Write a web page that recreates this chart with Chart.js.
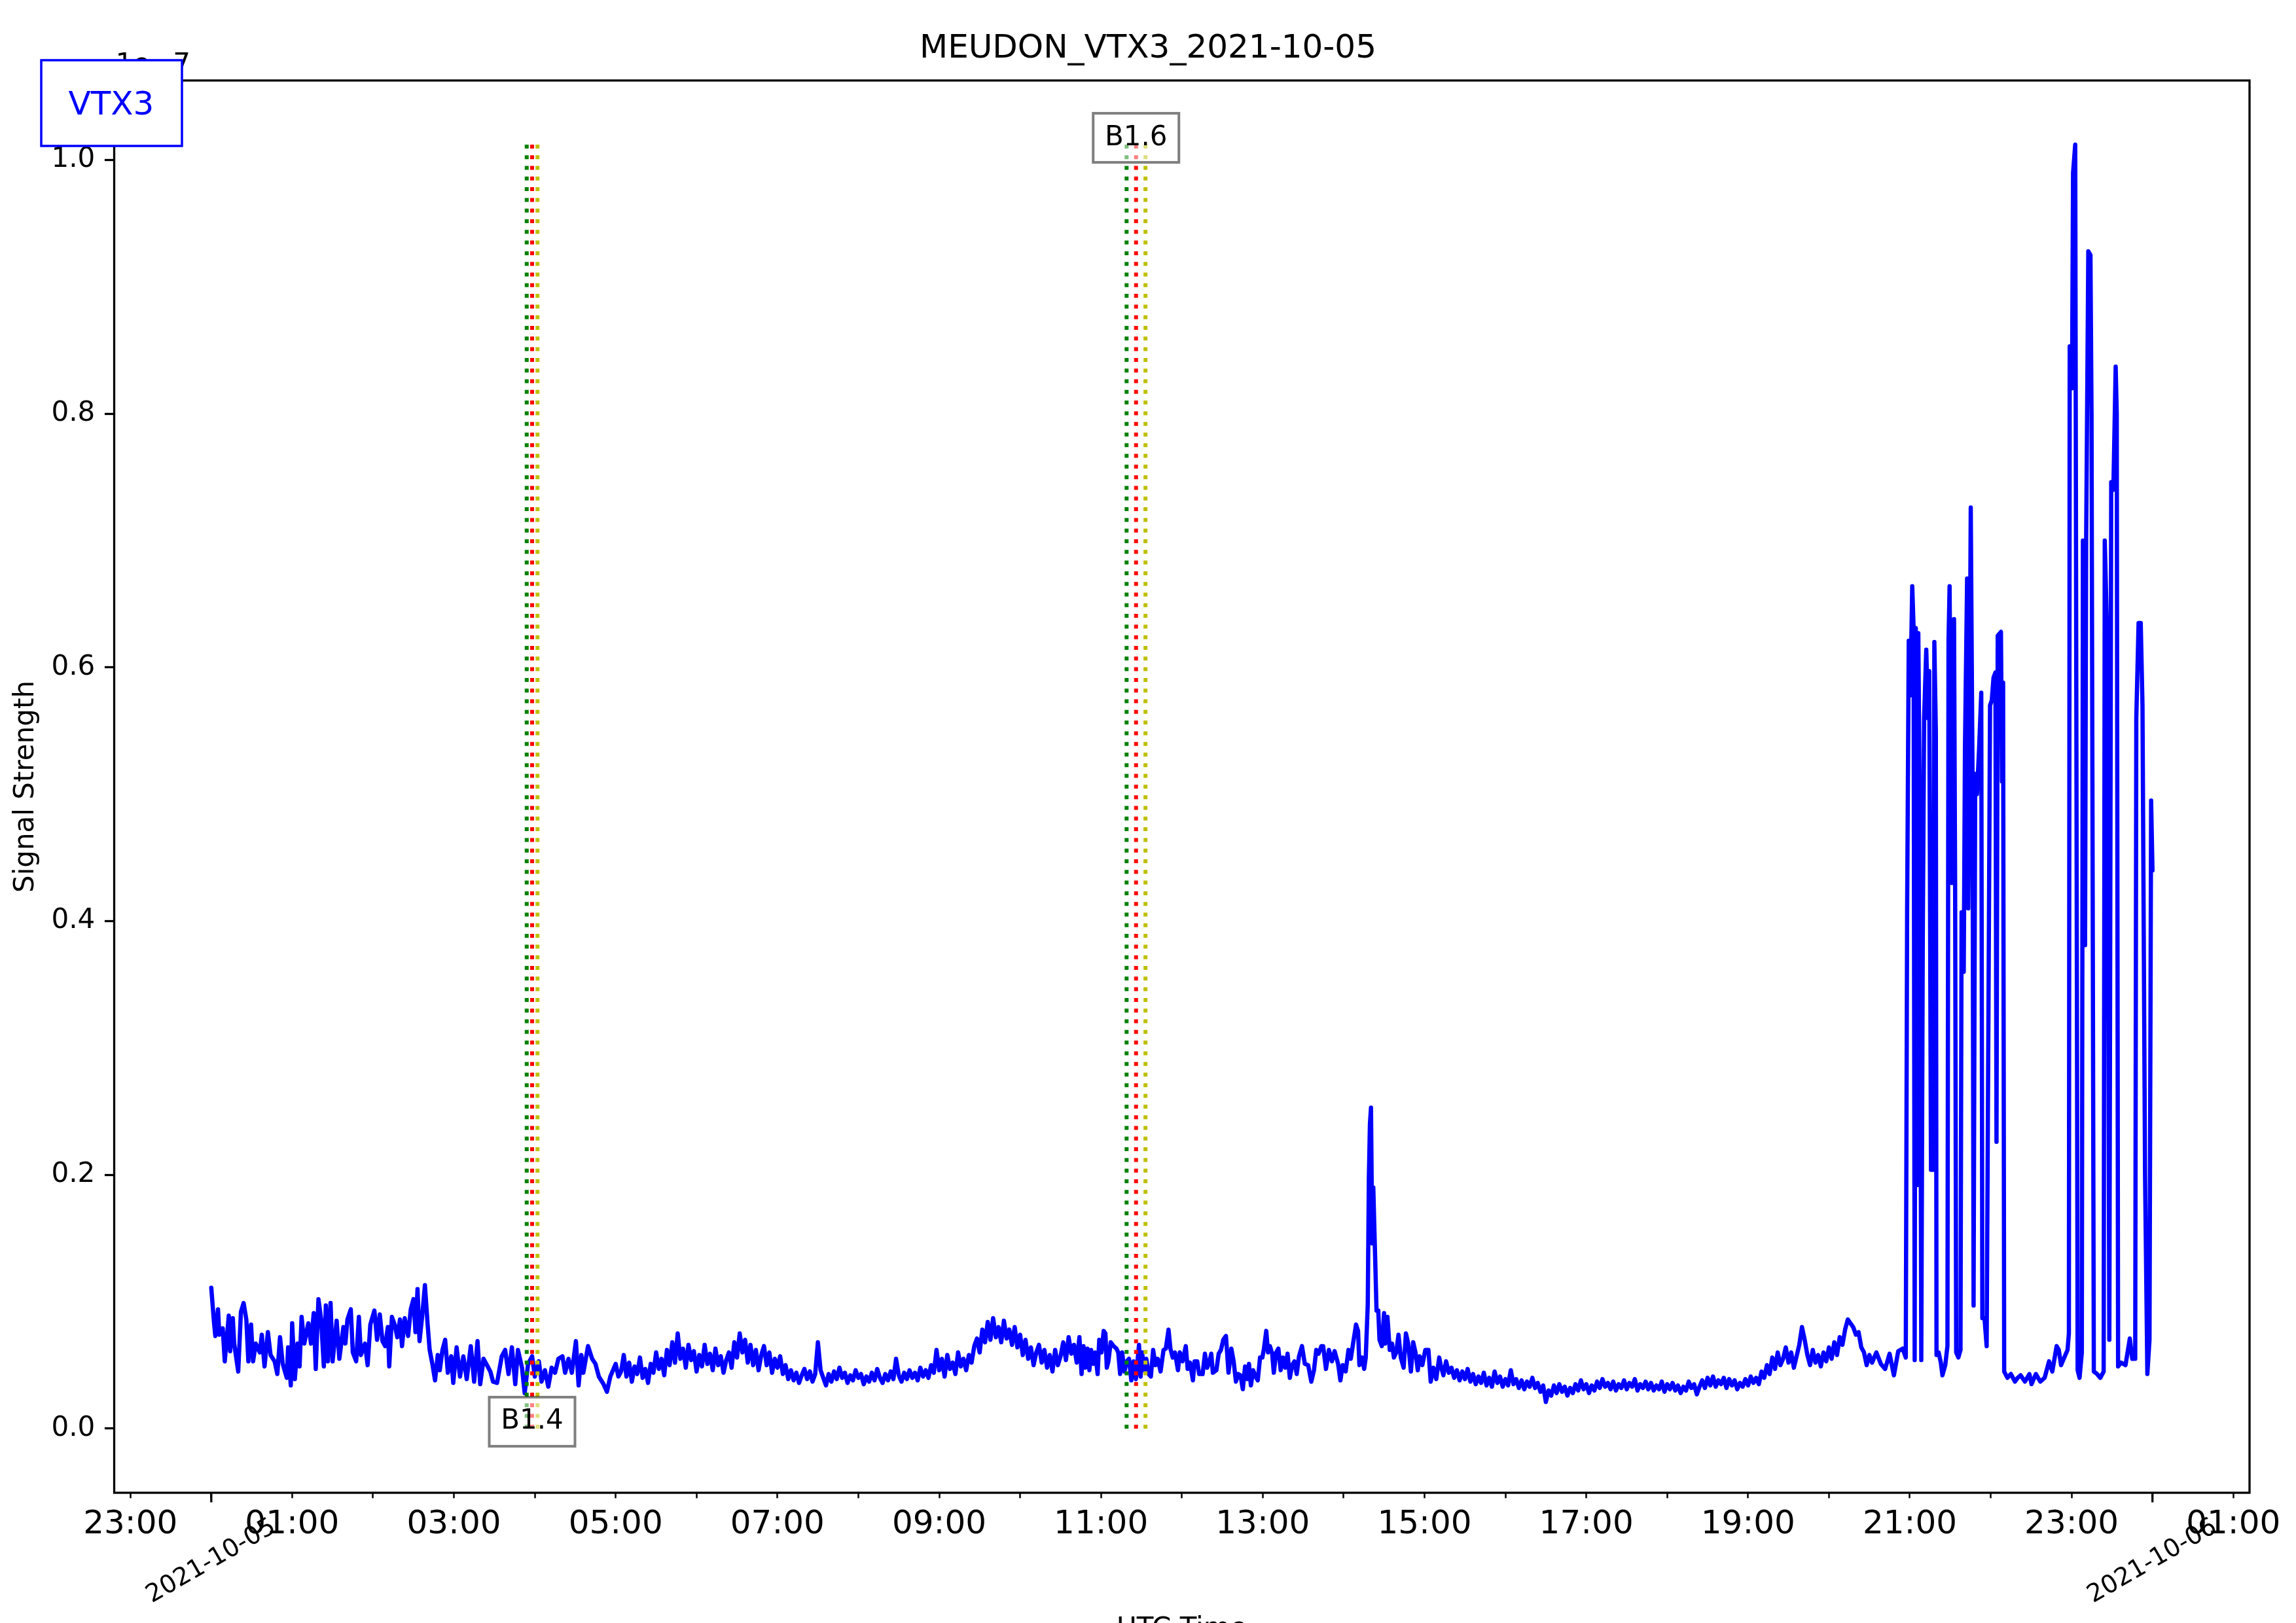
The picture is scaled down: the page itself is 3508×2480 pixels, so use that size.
<!DOCTYPE html>
<html>
<head>
<meta charset="utf-8">
<title>MEUDON_VTX3_2021-10-05</title>
<script src="https://cdn.jsdelivr.net/npm/chart.js@4.4.1/dist/chart.umd.min.js"></script>
<style>
  html, body { margin: 0; padding: 0; background: #fff; }
  canvas { display: block; }
</style>
</head>
<body>
<canvas id="signalChart" width="3508" height="2480"></canvas>
<script>
/* VLF signal VTX3 recorded at Meudon, 2021-10-05 */

// minutes after 2021-10-05 00:00 UTC
const signalMinutes = [
  0, 2, 3, 5, 6, 8.5, 10, 13, 14, 16, 17, 20, 22, 24, 26, 27.5, 29.5, 31, 33, 36, 37.5, 39.5, 42, 44, 47, 49, 51, 53, 56, 57,
  59, 60, 62, 64, 65.5, 67, 69, 72, 74, 76, 77.5, 79.5, 81.5, 83.5, 85, 86.5, 88.5, 90, 93, 95, 98, 99.5, 101, 103.5, 105, 107.5, 109.5, 111, 114, 116,
  118, 121, 123, 125, 127, 129, 131, 132, 134, 136, 138, 140, 141.5, 143.5, 146, 148, 150, 151.5, 153, 154.5, 156.5, 158.5, 160.5, 162, 164, 166, 168, 169.5, 171.5, 173.5,
  175.5, 178, 179.5, 182, 184.5, 187, 189.5, 192.5, 195, 197.5, 199.5, 202, 204, 207, 209, 212, 215.5, 218, 220.5, 223, 225.5, 227.5, 230.5, 232.5, 235, 238, 240, 243, 245, 247.5,
  250, 252.5, 255, 257.5, 260.5, 262.5, 265, 267.5, 270.5, 272.5, 274.5, 276, 279.5, 282.5, 285, 287.5, 291, 293.5, 296, 300, 302,
  304, 306, 308, 310, 312, 314, 316, 318, 320, 322, 324, 326, 328, 330, 332, 334, 336, 338, 340, 342, 344, 346, 348, 350, 352, 354, 356, 358, 360, 362,
  364, 366, 368, 370, 372, 374, 376, 378, 380, 382, 384, 386, 388, 390, 392, 394, 396, 398, 400, 402, 404, 406, 408, 410, 412, 414, 416, 418, 420, 422,
  424, 426, 428, 430, 432, 434, 436, 438, 440, 442, 444, 446, 448, 450, 452, 454, 456, 458, 460, 462, 464, 466, 468, 470, 472, 474, 476, 478, 480, 482,
  484, 486, 488, 490, 492, 494, 496, 498, 500, 502, 504, 506, 508, 510, 512, 514, 516, 518, 520, 522, 524, 526, 528, 530, 532, 534, 536, 538, 540, 542,
  544, 546, 548, 550, 552, 554, 556, 558, 560, 562, 564, 566, 568, 570, 572, 574, 576, 578, 580, 582, 584, 586, 588, 590, 592, 594, 596, 598, 600, 602,
  604, 606, 608, 610, 612, 614, 616, 618, 620, 622, 624, 626, 628, 630, 632, 634, 636, 638, 640, 642,
  644, 645.6, 647, 648.5, 650, 651.4, 652.7, 654.4, 655.8, 657.5, 658.7, 660.4, 662, 663.3, 664.3, 665.5, 667.2, 669.4, 671.5, 672.8, 674.2, 675.7, 677.4, 679.1, 680.8, 682.5, 684.2, 685.9, 688.2, 689.4,
  690.5, 691.9, 693.6, 695.3, 697, 698.7, 700.4, 702.1, 704.2, 706.4, 708.1, 710.1, 711.5, 713.2, 714.9, 717.1, 718.5, 720.5, 722.9, 724.3, 726, 728.2, 729.4, 731.4, 732.8, 735.4, 737.1, 738.8, 740.5, 741.8,
  743, 745.6, 747.3, 749, 750.7, 752.7, 754.6, 756.7, 758.4, 760.1, 761.8, 763.5, 765.2, 766.9, 768.6, 769.8, 771.2, 772.9, 774.6, 776.3, 778, 779.7, 780.9, 782.6, 783.9, 785.3, 787, 788.2, 789.9, 791.6,
  793.3, 795, 796.7, 798.4, 800.1, 801.8, 803.5, 805.2, 806.9, 809.1, 811.2, 813.7, 816, 818, 819.7, 821.4, 823.5, 824.8, 826.9, 829.1, 831.3, 833.3, 835.9, 837.6, 839.3, 841.5, 843.6, 845.3, 847, 849.2,
  850.7, 851.7, 853.8, 855.2, 856.4, 857.9, 858.7, 859.5, 860.3, 861.2, 862, 863, 864.4, 865.7, 866.6, 868.3, 870, 870.8, 872.5, 874.2, 875.9, 877.3, 879, 880.7, 882.4, 884.5, 886.2, 887.9, 889.9, 891.6,
  893.3, 895, 896.4, 898.4, 900.6, 902.9, 904.6, 906.6, 908.7, 910.9,
  912, 914, 916, 918, 920, 922, 924, 926, 928, 930, 932, 934, 936, 938, 940, 942, 944, 946, 948, 950, 952, 954, 956, 958, 960, 962, 964, 966, 968, 970,
  972, 974, 976, 978, 980, 982, 984, 986, 988, 990, 992, 994, 996, 998, 1000, 1002, 1004, 1006, 1008, 1010, 1012, 1014, 1016, 1018, 1020, 1022, 1024, 1026, 1028, 1030,
  1032, 1034, 1036, 1038, 1040, 1042, 1044, 1046, 1048, 1050, 1052, 1054, 1056, 1058, 1060, 1062, 1064, 1066, 1068, 1070, 1072, 1074, 1076, 1078, 1080, 1082, 1084, 1086, 1088, 1090,
  1092, 1094, 1096, 1098, 1100, 1102, 1104, 1106, 1108, 1110, 1112, 1114, 1116, 1118, 1120, 1122, 1124, 1126, 1128, 1130, 1132, 1134, 1136, 1138, 1140, 1142, 1144, 1146, 1148, 1150,
  1152, 1154, 1156, 1158, 1160, 1162, 1164, 1166, 1168, 1170, 1172, 1174, 1176, 1178, 1180, 1182, 1184, 1186, 1188, 1190, 1192, 1194, 1196, 1198, 1200, 1202, 1204, 1206, 1208, 1210,
  1212, 1214, 1216, 1218, 1220, 1222, 1224, 1226, 1228, 1230,
  1232, 1235.2, 1238.5, 1241.7, 1245, 1248.2, 1251.4, 1254.7, 1257,
  1258, 1259.2, 1260.4, 1261.8, 1262.8, 1263.6, 1264.4, 1265.7, 1266.3, 1267.6, 1268.5, 1269.6, 1270.6, 1272.2, 1273.5, 1274.4, 1275.7, 1277.4, 1278.2, 1279.3, 1279.8,
  1281.4, 1283, 1284.2, 1286.3, 1287.9, 1288.7, 1289.5, 1291.1, 1292.8, 1293.6, 1294.4, 1296, 1297.6, 1298.4, 1300, 1300.9, 1302.5, 1303.3, 1304.1, 1305.2, 1306.5, 1307.3, 1308.5, 1309.8, 1311.4, 1313, 1313.8, 1315.4, 1317,
  1318.7, 1319.5, 1320.8, 1322.1, 1323.5, 1324.3, 1325.2, 1327.6, 1328.4, 1329.2, 1330, 1332.4, 1335, 1338,
  1340, 1342.2, 1345.4, 1348.7, 1350.3, 1353.5, 1356.8, 1360, 1363.3, 1365.7, 1368.9, 1370.5, 1372.2, 1374.6, 1377, 1378,
  1378.6, 1380.3, 1381.1, 1382.7, 1384.5, 1385.9, 1387.6, 1388.4, 1390, 1390.8, 1392.4, 1394, 1394.8, 1396.5, 1398.9, 1401.3, 1403.8, 1404.6, 1406.5, 1408,
  1409.4, 1411, 1412.7, 1413.5, 1414.5, 1416.7, 1420, 1423.2, 1425, 1427.2, 1428, 1429.7, 1431.3, 1432.6, 1434.5, 1436.2, 1437.8, 1439, 1440
];

// signal strength, in units of 1e-7
const signalValues = [
  0.111, 0.084, 0.073, 0.094, 0.074, 0.079, 0.053, 0.089, 0.061, 0.087, 0.067, 0.045, 0.092, 0.099, 0.086, 0.053, 0.082, 0.053, 0.067, 0.060, 0.074, 0.049, 0.076, 0.058, 0.053, 0.043, 0.072, 0.051, 0.040, 0.064,
  0.034, 0.083, 0.039, 0.067, 0.049, 0.088, 0.067, 0.083, 0.067, 0.091, 0.047, 0.102, 0.086, 0.049, 0.097, 0.053, 0.099, 0.053, 0.085, 0.055, 0.080, 0.067, 0.086, 0.094, 0.060, 0.053, 0.088, 0.058, 0.067, 0.050,
  0.082, 0.093, 0.070, 0.090, 0.069, 0.065, 0.080, 0.049, 0.088, 0.082, 0.072, 0.086, 0.065, 0.087, 0.073, 0.094, 0.102, 0.076, 0.110, 0.069, 0.089, 0.113, 0.082, 0.062, 0.051, 0.038, 0.058, 0.046, 0.062, 0.070,
  0.044, 0.057, 0.036, 0.064, 0.041, 0.057, 0.039, 0.065, 0.037, 0.069, 0.035, 0.055, 0.051, 0.045, 0.037, 0.036, 0.057, 0.062, 0.043, 0.064, 0.035, 0.062, 0.048, 0.028, 0.051, 0.057, 0.041, 0.053, 0.037, 0.046,
  0.033, 0.048, 0.044, 0.055, 0.057, 0.044, 0.055, 0.044, 0.069, 0.034, 0.058, 0.044, 0.065, 0.055, 0.051, 0.041, 0.035, 0.029, 0.041, 0.051, 0.041,
  0.045, 0.058, 0.041, 0.052, 0.037, 0.049, 0.043, 0.056, 0.040, 0.047, 0.036, 0.051, 0.044, 0.060, 0.047, 0.055, 0.042, 0.062, 0.050, 0.068, 0.052, 0.075, 0.055, 0.063, 0.048, 0.066, 0.054, 0.061, 0.045, 0.058,
  0.049, 0.066, 0.051, 0.059, 0.046, 0.063, 0.050, 0.057, 0.044, 0.054, 0.060, 0.048, 0.068, 0.056, 0.075, 0.060, 0.070, 0.052, 0.066, 0.050, 0.062, 0.046, 0.058, 0.065, 0.050, 0.060, 0.044, 0.055, 0.048, 0.057,
  0.043, 0.050, 0.039, 0.046, 0.038, 0.044, 0.036, 0.042, 0.047, 0.039, 0.045, 0.037, 0.043, 0.068, 0.046, 0.040, 0.034, 0.043, 0.037, 0.045, 0.039, 0.048, 0.040, 0.044, 0.036, 0.042, 0.038, 0.046, 0.040, 0.043,
  0.035, 0.041, 0.037, 0.044, 0.038, 0.047, 0.040, 0.036, 0.043, 0.038, 0.045, 0.039, 0.055, 0.042, 0.037, 0.044, 0.039, 0.046, 0.040, 0.044, 0.038, 0.048, 0.041, 0.046, 0.040, 0.050, 0.044, 0.062, 0.046, 0.055,
  0.041, 0.058, 0.047, 0.052, 0.043, 0.060, 0.049, 0.055, 0.046, 0.058, 0.052, 0.065, 0.071, 0.060, 0.078, 0.068, 0.084, 0.070, 0.087, 0.072, 0.080, 0.068, 0.085, 0.071, 0.078, 0.066, 0.080, 0.064, 0.074, 0.058,
  0.070, 0.055, 0.064, 0.050, 0.060, 0.066, 0.052, 0.062, 0.048, 0.058, 0.045, 0.062, 0.050, 0.057, 0.068, 0.054, 0.072, 0.059, 0.066, 0.052,
  0.072, 0.043, 0.065, 0.048, 0.063, 0.046, 0.062, 0.051, 0.060, 0.043, 0.070, 0.060, 0.077, 0.075, 0.048, 0.053, 0.068, 0.065, 0.063, 0.060, 0.043, 0.060, 0.045, 0.053, 0.055, 0.038, 0.053, 0.039, 0.066, 0.041,
  0.060, 0.046, 0.055, 0.043, 0.041, 0.062, 0.050, 0.055, 0.045, 0.062, 0.063, 0.078, 0.063, 0.056, 0.060, 0.046, 0.060, 0.053, 0.065, 0.047, 0.052, 0.038, 0.053, 0.053, 0.043, 0.043, 0.059, 0.048, 0.053, 0.059,
  0.044, 0.046, 0.059, 0.062, 0.070, 0.073, 0.044, 0.063, 0.053, 0.037, 0.043, 0.042, 0.031, 0.049, 0.039, 0.051, 0.034, 0.046, 0.041, 0.038, 0.056, 0.056, 0.063, 0.077, 0.060, 0.065, 0.059, 0.044, 0.060, 0.063,
  0.046, 0.056, 0.048, 0.059, 0.040, 0.050, 0.053, 0.043, 0.057, 0.065, 0.051, 0.050, 0.037, 0.046, 0.062, 0.059, 0.065, 0.065, 0.047, 0.062, 0.053, 0.061, 0.051, 0.038, 0.050, 0.045, 0.062, 0.055, 0.067, 0.082,
  0.077, 0.050, 0.056, 0.047, 0.056, 0.098, 0.197, 0.240, 0.253, 0.146, 0.190, 0.150, 0.093, 0.093, 0.070, 0.065, 0.091, 0.067, 0.088, 0.062, 0.067, 0.056, 0.060, 0.074, 0.056, 0.048, 0.075, 0.067, 0.045, 0.068,
  0.060, 0.046, 0.057, 0.050, 0.062, 0.062, 0.037, 0.048, 0.039, 0.056,
  0.050, 0.042, 0.053, 0.044, 0.048, 0.040, 0.046, 0.038, 0.045, 0.039, 0.047, 0.037, 0.043, 0.035, 0.041, 0.036, 0.044, 0.034, 0.040, 0.033, 0.045, 0.036, 0.041, 0.033, 0.039, 0.034, 0.046, 0.035, 0.039, 0.032,
  0.038, 0.031, 0.037, 0.033, 0.040, 0.032, 0.036, 0.029, 0.034, 0.021, 0.030, 0.026, 0.034, 0.028, 0.035, 0.029, 0.033, 0.026, 0.032, 0.028, 0.035, 0.030, 0.038, 0.031, 0.035, 0.028, 0.034, 0.030, 0.037, 0.032,
  0.039, 0.033, 0.036, 0.031, 0.037, 0.030, 0.035, 0.032, 0.038, 0.031, 0.036, 0.033, 0.039, 0.030, 0.035, 0.032, 0.037, 0.031, 0.036, 0.030, 0.034, 0.031, 0.037, 0.029, 0.035, 0.031, 0.036, 0.030, 0.034, 0.028,
  0.033, 0.030, 0.037, 0.032, 0.035, 0.027, 0.033, 0.038, 0.032, 0.040, 0.034, 0.041, 0.033, 0.038, 0.035, 0.040, 0.032, 0.039, 0.034, 0.038, 0.031, 0.036, 0.033, 0.039, 0.034, 0.041, 0.036, 0.040, 0.035, 0.045,
  0.040, 0.050, 0.043, 0.056, 0.047, 0.060, 0.050, 0.055, 0.064, 0.052, 0.060, 0.048, 0.057, 0.066, 0.080, 0.070, 0.058, 0.050, 0.062, 0.052, 0.058, 0.049, 0.060, 0.053, 0.064, 0.055, 0.068, 0.058, 0.072, 0.066,
  0.078, 0.086, 0.083, 0.080, 0.074, 0.076, 0.064, 0.060, 0.050, 0.058,
  0.052, 0.060, 0.051, 0.047, 0.059, 0.042, 0.061, 0.063, 0.056,
  0.407, 0.621, 0.578, 0.664, 0.631, 0.054, 0.631, 0.192, 0.627, 0.459, 0.054, 0.383, 0.560, 0.614, 0.560, 0.597, 0.204, 0.204, 0.620, 0.550, 0.058,
  0.060, 0.052, 0.042, 0.050, 0.065, 0.620, 0.664, 0.430, 0.638, 0.430, 0.060, 0.056, 0.062, 0.407, 0.360, 0.536, 0.670, 0.410, 0.520, 0.726, 0.516, 0.097, 0.516, 0.500, 0.536, 0.580, 0.087, 0.087, 0.065,
  0.400, 0.570, 0.574, 0.592, 0.596, 0.226, 0.625, 0.628, 0.510, 0.588, 0.045, 0.040, 0.043, 0.037,
  0.040, 0.042, 0.037, 0.043, 0.035, 0.043, 0.037, 0.040, 0.053, 0.045, 0.065, 0.062, 0.050, 0.056, 0.062, 0.075,
  0.853, 0.820, 0.990, 1.012, 0.046, 0.040, 0.060, 0.700, 0.381, 0.700, 0.928, 0.925, 0.800, 0.045, 0.043, 0.040, 0.045, 0.700, 0.620, 0.070,
  0.746, 0.740, 0.837, 0.800, 0.049, 0.052, 0.050, 0.071, 0.055, 0.055, 0.560, 0.635, 0.635, 0.570, 0.200, 0.043, 0.070, 0.495, 0.440
];

// flare events (minutes after 00:00 UTC)
const flareClasses = ['B1.4', 'B1.6'];
const flareStart = [234, 679];
const flarePeak = [238, 686];
const flareEnd = [242, 693];

const dayMinutes = [0, 1440];
const dayLabels = ['2021-10-05', '2021-10-06'];
const yTicks = [0, 0.2, 0.4, 0.6, 0.8, 1.0];

const points = signalMinutes.map((m, i) => ({x: m, y: signalValues[i]}));
const yTop = Math.max(...signalValues);
const span = signalMinutes[signalMinutes.length - 1] - signalMinutes[0];
const xMin = signalMinutes[0] - span * 0.05;
const xMax = signalMinutes[signalMinutes.length - 1] + span * 0.05;

function eventLine(t, color) {
  return {
    data: [{x: t, y: 0}, {x: t, y: yTop}],
    borderColor: color,
    borderWidth: 6,
    borderDash: [6, 10.3],
    borderCapStyle: 'butt',
    pointRadius: 0,
    order: 0
  };
}

const eventSets = [];
flareClasses.forEach((c, i) => {
  eventSets.push(eventLine(flareStart[i], '#008000'));
  eventSets.push(eventLine(flarePeak[i], '#ff0000'));
  eventSets.push(eventLine(flareEnd[i], '#bfbf00'));
});

const hourTicks = [];
for (let m = -60; m <= 1500; m += 60) hourTicks.push(m);

function hhmm(m) {
  const h = ((m / 60) % 24 + 24) % 24;
  return (h < 10 ? '0' : '') + h + ':00';
}

/* extra drawing: frame, midnight ticks, dates, boxes */
const decor = {
  id: 'decor',
  beforeDraw(chart) {
    const c = chart.ctx;
    c.save();
    c.fillStyle = '#fff';
    c.fillRect(0, 0, chart.width, chart.height);
    c.restore();
  },
  afterDatasetsDraw(chart) {
    const c = chart.ctx, x = chart.scales.x, y = chart.scales.y;
    c.save();
    c.font = '42px "DejaVu Sans"';
    c.textAlign = 'center';
    c.textBaseline = 'alphabetic';
    flareClasses.forEach((cls, i) => {
      const px = x.getPixelForValue(flarePeak[i]);
      const cy = y.getPixelForValue(i % 2 ? yTop : 0) - 10.5;
      c.fillStyle = 'rgba(255,255,255,0.5)';
      c.fillRect(px - 65.5, cy - 37.5, 131, 75);
      c.strokeStyle = 'rgba(0,0,0,0.5)';
      c.lineWidth = 4;
      c.strokeRect(px - 65.5, cy - 37.5, 131, 75);
      c.fillStyle = '#000';
      c.fillText(cls, px, cy + 11);
    });
    c.restore();
  },
  afterDraw(chart) {
    const c = chart.ctx, a = chart.chartArea, x = chart.scales.x;
    c.save();
    // axes frame
    c.strokeStyle = '#000';
    c.lineWidth = 3.3;
    c.strokeRect(a.left, a.top, a.right - a.left, a.bottom - a.top);
    // midnight ticks and date labels
    c.font = '38px "DejaVu Sans"';
    c.fillStyle = '#000';
    c.textAlign = 'center';
    c.textBaseline = 'middle';
    dayMinutes.forEach((m, i) => {
      const px = x.getPixelForValue(m);
      c.beginPath();
      c.moveTo(px, a.bottom);
      c.lineTo(px, a.bottom + 14.6);
      c.stroke();
      c.save();
      c.translate(px, 2386);
      c.rotate(-Math.PI / 6);
      c.fillText(dayLabels[i], 0, 0);
      c.restore();
    });
    // x axis title (mostly below the page edge)
    c.font = '42px "DejaVu Sans"';
    c.textBaseline = 'alphabetic';
    c.fillText('UTC Time', (a.left + a.right) / 2, 2501);
    // offset text
    c.textAlign = 'left';
    c.fillText('1e\u22127', a.left + 2, 111);
    // station box
    c.fillStyle = '#fff';
    c.fillRect(63, 92, 215, 131);
    c.strokeStyle = '#0000ff';
    c.lineWidth = 3.5;
    c.strokeRect(63, 92, 215, 131);
    c.fillStyle = '#0000ff';
    c.font = '50px "DejaVu Sans"';
    c.textAlign = 'center';
    c.fillText('VTX3', 170, 157 + 18);
    c.restore();
  }
};

Chart.defaults.font.family = '"DejaVu Sans", sans-serif';
Chart.defaults.color = '#000';

const ctx = document.getElementById('signalChart').getContext('2d');
const signalChart = new Chart(ctx, {
  type: 'line',
  data: {
    datasets: [{
      label: 'VTX3',
      data: points,
      borderColor: '#0000ff',
      borderWidth: 6.5,
      borderJoinStyle: 'round',
      borderCapStyle: 'round',
      pointRadius: 0,
      tension: 0,
      order: 1
    }].concat(eventSets)
  },
  options: {
    responsive: false,
    animation: false,
    devicePixelRatio: 1,
    layout: {
      padding: {top: 0, right: 71, left: 71, bottom: 0}
    },
    plugins: {
      legend: {display: false},
      tooltip: {enabled: false},
      title: {
        display: true,
        text: 'MEUDON_VTX3_2021-10-05',
        font: {size: 50, weight: 'normal'},
        color: '#000',
        padding: {top: 45, bottom: 18}
      }
    },
    scales: {
      x: {
        type: 'linear',
        min: xMin,
        max: xMax,
        afterBuildTicks: function(scale) {
          scale.ticks = hourTicks.map(v => ({value: v}));
        },
        afterFit: function(scale) {
          scale.height = 199;
        },
        ticks: {
          autoSkip: false,
          maxRotation: 0,
          minRotation: 0,
          padding: 11,
          font: {size: 50},
          callback: function(value) {
            const h = ((value / 60) % 24 + 24) % 24;
            return h % 2 === 1 ? hhmm(value) : '';
          }
        },
        grid: {
          drawOnChartArea: false,
          tickLength: 8.3,
          tickWidth: 2.5,
          tickColor: '#000'
        },
        border: {display: false}
      },
      y: {
        min: -0.05 * yTop,
        max: yTop * 1.05,
        afterBuildTicks: function(scale) {
          scale.ticks = yTicks.map(v => ({value: v}));
        },
        afterFit: function(scale) {
          scale.width = 103.5;
        },
        ticks: {
          padding: 14.6,
          font: {size: 42},
          callback: function(value) {
            return value.toFixed(1);
          }
        },
        title: {
          display: true,
          text: 'Signal Strength',
          font: {size: 42},
          padding: {top: -56, bottom: 0}
        },
        grid: {
          drawOnChartArea: false,
          tickLength: 14.6,
          tickWidth: 3.3,
          tickColor: '#000'
        },
        border: {display: false}
      }
    }
  },
  plugins: [decor]
});
</script>
</body>
</html>
